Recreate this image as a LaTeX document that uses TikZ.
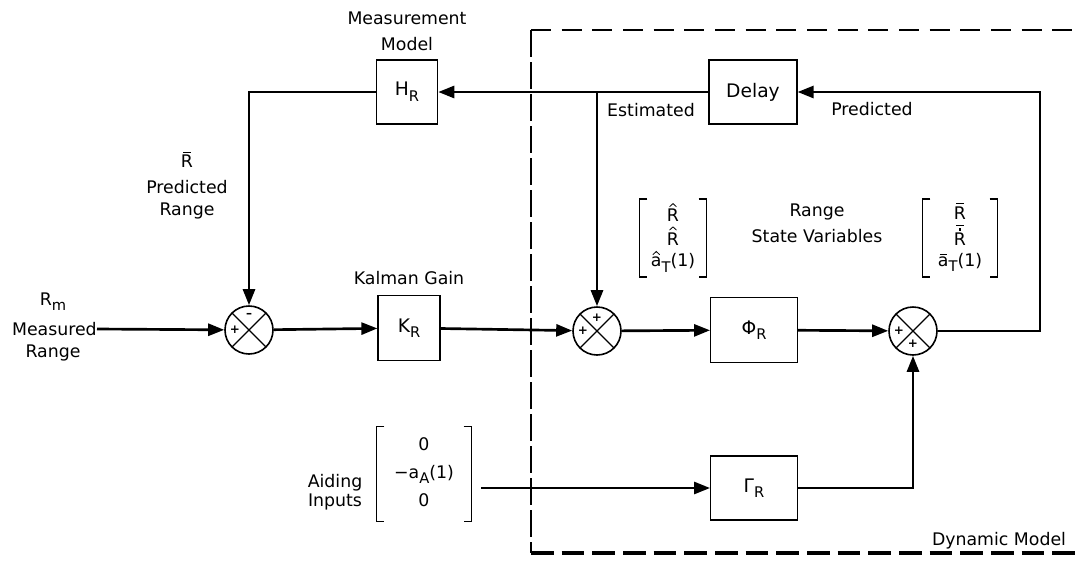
\documentclass[tikz,border=0pt]{standalone}
\usepackage{fontspec}
\setmainfont{DejaVu Sans}
\usetikzlibrary{arrows.meta,calc}
\newcommand\hatmk{\tikz[x=1pt,y=1pt,baseline=0pt,line width=0.6pt]\draw (0,0)--(2.6,2.4)--(5.2,0);}
\newcommand\stk[2]{\leavevmode\vbox{\offinterlineskip\halign{\hfil##\hfil\cr#1\cr\noalign{\kern1.5pt}#2\cr}}}
\newcommand\sbs[1]{\raisebox{-0.55ex}{\fontsize{11}{11}\selectfont #1}}
\newcommand\barmk{\rule{6pt}{0.7pt}}
\newcommand\dotmk{\rule{2pt}{2pt}}
\tikzset{
  blk/.style={draw, line width=0.9pt, inner sep=0pt, font=\fontsize{14}{16}\selectfont},
  sumnode/.style={circle, draw, line width=1.2pt, minimum size=36pt, inner sep=0pt,
    path picture={\draw[line width=1pt] (path picture bounding box.north west) -- (path picture bounding box.south east)
      (path picture bounding box.north east) -- (path picture bounding box.south west);}},
  conn/.style={line width=2pt},
  arr/.style={conn, -{Triangle[length=12pt,width=9pt]}},
  lbl/.style={font=\fontsize{13}{15}\selectfont, inner sep=0pt},
  sgn/.style={font=\fontsize{9}{9}\selectfont\bfseries, inner sep=0pt},
  vec/.style={inner sep=0pt, font=\fontsize{13}{15}\selectfont},
  brk/.style={line width=1pt}
}
\begin{document}
\begin{tikzpicture}[x=0.75pt,y=-0.75pt]
\useasboundingbox (0,0) rectangle (1083,561);
% dynamic model frame
\draw[line width=0.9pt, dash pattern=on 15pt off 8pt] (531,30) -- (1083,30);
\draw[line width=0.8pt, dash pattern=on 20pt off 4pt] (531,30) -- (531,553);
\draw[line width=2.6pt, dash pattern=on 17pt off 6pt] (531,553) -- (1083,553);
% blocks
\node[blk, minimum width=46pt, minimum height=48pt] (H) at (407,92) {H\sbs{R}};
\node[blk, minimum width=66pt, minimum height=48pt] (D) at (753,92) {Delay};
\node[blk, minimum width=46.5pt, minimum height=49pt] (K) at (409,328) {K\sbs{R}};
\node[blk, minimum width=65pt, minimum height=49pt] (P) at (754,330) {Φ\sbs{R}};
\node[blk, minimum width=65pt, minimum height=48pt] (G) at (754,488) {Γ\sbs{R}};
% summers
\node[sumnode] (s1) at (249,330) {};
\node[sumnode] (s2) at (597,331) {};
\node[sumnode] (s3) at (913,331) {};
\node[sgn] (s1a) at ($(s1)+(-14,0)$) {+};
\node[sgn] (s1b) at ($(s1)+(0,-15)$) {–};
\node[sgn] (s2a) at ($(s2)+(-14,0)$) {+};
\node[sgn] (s2b) at ($(s2)+(0,-13)$) {+};
\node[sgn] (s3a) at ($(s3)+(-14,0)$) {+};
\node[sgn] (s3b) at ($(s3)+(0,13)$) {+};
% labels
\node[lbl] (mm1) at (407,18) {Measurement};
\node[lbl] (mm2) at (407,44) {Model};
\node[lbl] (est) at (651,110) {Estimated};
\node[lbl] (pre) at (872,109) {Predicted};
\node[lbl] (rb) at (187,160) {\stk{\barmk}{R}};
\node[lbl] (pr1) at (187,187) {Predicted};
\node[lbl] (pr2) at (187,211) {Range};
\node[lbl] (rm) at (53,302) {R\sbs{m}};
\node[lbl, anchor=east] (meas) at (97,329) {Measured};
\node[lbl] (rng) at (53,353) {Range};
\node[lbl] (kg) at (409,278) {Kalman Gain};
\node[lbl] (rsv1) at (817,212) {Range};
\node[lbl] (rsv2) at (817,236) {State Variables};
\node[lbl] (ai1) at (335,483) {Aiding};
\node[lbl] (ai2) at (335,502) {Inputs};
\node[lbl] (dm) at (999,541) {Dynamic Model};
% vectors
\node[vec, minimum width=50pt, minimum height=58pt] (ev) at (673,238)
  {\begin{tabular}{@{}c@{}}\stk{\hatmk}{R}\\[-1pt]\stk{\hatmk}{R}\\[0pt]\stk{\hatmk}{a}\sbs{T}(1)\end{tabular}};
\node[vec, minimum width=56pt, minimum height=58pt] (pv) at (960,238)
  {\begin{tabular}{@{}c@{}}\stk{\barmk}{R}\\[0pt]\stk{\barmk}{\stk{\dotmk}{R}}\\[1pt]\stk{\rule{5pt}{0.6pt}}{a}\sbs{T}(1)\end{tabular}};
\node[vec, minimum width=71pt, minimum height=71pt] (av) at (424,474)
  {\begin{tabular}{@{}c@{}}0\\[6pt]−a\sbs{A}(1)\\[6pt]0\end{tabular}};
\foreach \v in {ev,pv,av}{
  \draw[brk] ([xshift=6pt]\v.north west) -- (\v.north west) -- (\v.south west) -- ([xshift=6pt]\v.south west);
  \draw[brk] ([xshift=-6pt]\v.north east) -- (\v.north east) -- (\v.south east) -- ([xshift=-6pt]\v.south east);
}
% connectors
\coordinate (j1) at (597,92);
\coordinate (c1) at (249,92);
\coordinate (c2) at (1040,331);
\coordinate (c3) at (1040,92);
\coordinate (c4) at (913,488);
\coordinate (ao) at (481,488);
\draw[arr] (meas.east) -- (s1);
\draw[arr] (s1) -- (K);
\draw[arr] (K) -- (s2);
\draw[arr] (s2) -- (P);
\draw[arr] (P) -- (s3);
\draw[arr] (s3) -- (c2) -- (c3) -- (D.east);
\draw[arr] (D.west) -- (H.east);
\draw[arr] (H.west) -- (c1) -- (s1);
\draw[arr] (j1) -- (s2);
\draw[arr] (ao) -- (G.west);
\draw[arr] (G.east) -- (c4) -- (s3);
\end{tikzpicture}
\end{document}
